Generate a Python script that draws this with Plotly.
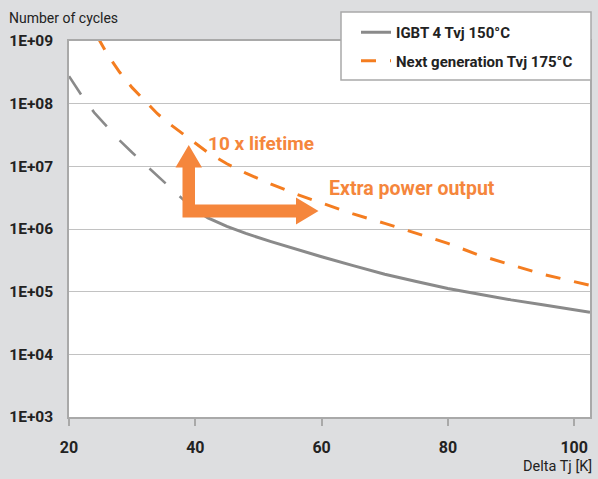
import plotly.graph_objects as go

# ---------------- data ----------------
delta_tj_igbt4_ext = [20, 22, 24, 26, 28, 30, 32, 34, 36, 38, 40]
cycles_igbt4_ext = [2.75e8, 1.35e8, 7.2e7, 4.3e7, 2.6e7, 1.66e7, 1.07e7, 7.1e6, 4.6e6, 3.0e6, 2.05e6]

delta_tj_igbt4 = [40, 42, 45, 48, 52, 56, 60, 65, 70, 75, 80, 85, 90, 95, 100, 102.5]
cycles_igbt4 = [2.05e6, 1.5e6, 1.1e6, 8.5e5, 6.3e5, 4.7e5, 3.6e5, 2.6e5, 1.9e5, 1.45e5,
                1.12e5, 9.1e4, 7.4e4, 6.2e4, 5.1e4, 4.7e4]

delta_tj_next = [24.5, 26, 28, 30, 32, 34, 36, 38, 40, 42, 45, 48, 52, 56, 60, 65, 70, 75,
                 80, 85, 90, 95, 102.5]
cycles_next = [1.17e9, 6.3e8, 3.2e8, 1.8e8, 1.12e8, 6.9e7, 4.7e7, 3.3e7, 2.35e7, 1.66e7,
               1.1e7, 7.8e6, 5.2e6, 3.6e6, 2.6e6, 1.74e6, 1.23e6, 8.5e5, 5.9e5, 3.8e5,
               2.7e5, 1.9e5, 1.26e5]

series_names = ["IGBT 4 Tvj 150°C", "Next generation Tvj 175°C"]
y_tick_values = [1e3, 1e4, 1e5, 1e6, 1e7, 1e8, 1e9]
y_tick_labels = ["1E+03", "1E+04", "1E+05", "1E+06", "1E+07", "1E+08", "1E+09"]
x_tick_values = [20, 40, 60, 80, 100]

# ---------------- style ----------------
FONT = "Roboto, sans-serif"
GRAY = "#8a8a8a"
ORANGE = "#f47d20"
ARROW = "#f5863c"
TEXT = "#222222"
BG = "#dddee0"
FRAME = "#a9a9a9"

W, H = 598, 479
ML, MR, MT, MB = 69, 8, 41, 62
PW, PH = W - ML - MR, H - MT - MB


def fx(px):
    return (px - ML) / PW


def fy(py):
    return (H - MB - py) / PH


fig = go.Figure()

fig.add_trace(go.Scatter(
    x=delta_tj_igbt4_ext, y=cycles_igbt4_ext, mode="lines",
    line=dict(color=GRAY, width=2.6, dash="22px,19px"),
    showlegend=False, hoverinfo="skip", legendgroup="a"))
fig.add_trace(go.Scatter(
    x=delta_tj_igbt4, y=cycles_igbt4, mode="lines", name=series_names[0],
    line=dict(color=GRAY, width=3), legendgroup="a"))
fig.add_trace(go.Scatter(
    x=delta_tj_next, y=cycles_next, mode="lines", name=series_names[1],
    line=dict(color=ORANGE, width=3, dash="15px,14px"), legendgroup="b"))

# L-shaped arrow (pixel geometry converted to paper coordinates)
arrow_px = [(182.5, 217.5), (182.5, 167.5), (175.5, 167.5), (188.75, 145), (202, 167.5),
            (195, 167.5), (195, 204.5), (296, 204.5), (296, 197.5), (318.5, 211),
            (296, 224.5), (296, 217.5)]
path = "M " + " L ".join(f"{fx(a):.5f},{fy(b):.5f}" for a, b in arrow_px) + " Z"
fig.add_shape(type="path", path=path, xref="paper", yref="paper",
              fillcolor=ARROW, line=dict(width=0), layer="above")

# legend frame (wider than plotly's own box, as in the reference)
fig.add_shape(type="rect", xref="paper", yref="paper",
              x0=fx(341), x1=fx(591), y0=fy(80), y1=fy(12),
              fillcolor="white", line=dict(color=FRAME, width=1.5), layer="above")

annotations = [
    dict(text="10 x lifetime", x=fx(206), y=fy(143), xref="paper", yref="paper",
         xanchor="left", yanchor="middle", showarrow=False,
         font=dict(family=FONT, size=19, color=ARROW, weight="bold")),
    dict(text="Extra power output", x=fx(327), y=fy(188), xref="paper", yref="paper",
         xanchor="left", yanchor="middle", showarrow=False,
         font=dict(family=FONT, size=19.5, color=ARROW, weight="bold")),
    dict(text="Number of cycles", x=fx(7), y=fy(18), xref="paper", yref="paper",
         xanchor="left", yanchor="middle", showarrow=False,
         font=dict(family=FONT, size=14, color=TEXT)),
    dict(text="Delta Tj [K]", x=fx(594), y=fy(467), xref="paper", yref="paper",
         xanchor="right", yanchor="middle", showarrow=False,
         font=dict(family=FONT, size=14.5, color=TEXT)),
]

fig.update_layout(
    width=W, height=H,
    margin=dict(l=ML, r=MR, t=MT, b=MB, autoexpand=False),
    paper_bgcolor=BG, plot_bgcolor="white",
    font=dict(family=FONT, color=TEXT),
    annotations=annotations,
    legend=dict(
        x=fx(356), y=fy(16), xanchor="left", yanchor="top",
        bgcolor="rgba(0,0,0,0)", borderwidth=0,
        font=dict(family=FONT, size=15, color=TEXT, weight="bold"),
        traceorder="grouped", tracegroupgap=6,
    ),
    xaxis=dict(
        range=[20, 20 + PW / 6.315], tickvals=x_tick_values, automargin=False,
        ticks="outside", ticklen=7, tickcolor=FRAME, tickwidth=1.5,
        showline=True, linecolor=FRAME, linewidth=1.5, mirror=True,
        showgrid=False, zeroline=False,
        tickfont=dict(family=FONT, size=16, color=TEXT, weight="bold"),
        ticklabelstandoff=8,
    ),
    yaxis=dict(
        type="log", range=[3, 9], tickvals=y_tick_values, ticktext=y_tick_labels,
        automargin=False,
        ticks="", showline=True, linecolor=FRAME, linewidth=1.5, mirror=True,
        showgrid=True, gridcolor="#c2c2c2", gridwidth=1.3, zeroline=False,
        tickfont=dict(family=FONT, size=15.5, color=TEXT, weight="bold"),
        ticklabelstandoff=11,
    ),
)

fig.write_html(
    "out.html",
    config={"displayModeBar": False},
    post_script=(
        "document.body.style.margin='0';"
        "document.body.style.padding='0';"
        "document.body.style.overflow='hidden';"
        f"document.body.style.background='{BG}';"
    ),
)
